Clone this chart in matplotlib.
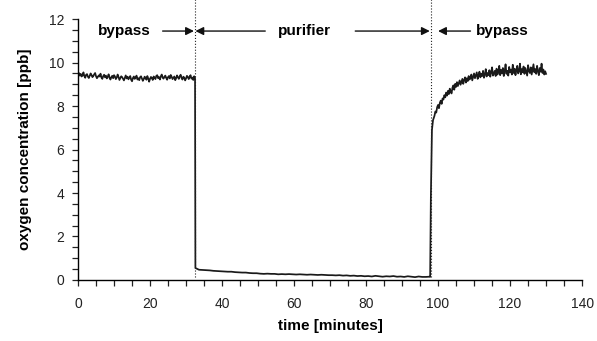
import numpy as np
import matplotlib
matplotlib.use("Agg")
import matplotlib.pyplot as plt
from matplotlib.ticker import MultipleLocator

plt.rcParams['font.family'] = ['Liberation Sans', 'DejaVu Sans']

# bypass (before purifier), sampled every 0.25 min from t=0
o2_bypass1 = [9.45, 9.52, 9.40, 9.48, 9.36, 9.41, 9.55, 9.38, 9.30, 9.44,
              9.47, 9.35, 9.29, 9.40, 9.50, 9.43, 9.33, 9.38, 9.46, 9.52,
              9.37, 9.28, 9.34, 9.41, 9.36, 9.49, 9.31, 9.25, 9.38, 9.44,
              9.32, 9.40, 9.27, 9.35, 9.46, 9.30, 9.22, 9.33, 9.39, 9.28,
              9.42, 9.36, 9.24, 9.31, 9.45, 9.34, 9.20, 9.29, 9.37, 9.33,
              9.26, 9.18, 9.30, 9.41, 9.27, 9.35, 9.23, 9.32, 9.38, 9.21,
              9.14, 9.29, 9.36, 9.25, 9.31, 9.40, 9.22, 9.28, 9.19, 9.33,
              9.37, 9.26, 9.16, 9.24, 9.35, 9.30, 9.21, 9.38, 9.27, 9.12,
              9.25, 9.34, 9.29, 9.20, 9.36, 9.31, 9.24, 9.39, 9.42, 9.28,
              9.33, 9.22, 9.37, 9.45, 9.31, 9.26, 9.35, 9.40, 9.29, 9.21,
              9.33, 9.38, 9.27, 9.43, 9.35, 9.24, 9.30, 9.36, 9.19, 9.28,
              9.41, 9.32, 9.25, 9.37, 9.44, 9.29, 9.22, 9.35, 9.31, 9.18,
              9.27, 9.39, 9.33, 9.24, 9.36, 9.42, 9.26, 9.31, 9.20, 9.37,
              9.30]
# purifier, sampled every 1 min from t=32.6
o2_purifier = [0.55, 0.47, 0.46, 0.45, 0.44, 0.42, 0.41, 0.40, 0.39, 0.38, 0.38, 0.36,
               0.35, 0.34, 0.34, 0.32, 0.31, 0.31, 0.29, 0.28, 0.29, 0.28, 0.28, 0.26,
               0.27, 0.26, 0.27, 0.26, 0.25, 0.26, 0.25, 0.24, 0.25, 0.24, 0.23, 0.24,
               0.23, 0.22, 0.22, 0.21, 0.22, 0.20, 0.21, 0.19, 0.20, 0.18, 0.19, 0.17,
               0.18, 0.16, 0.19, 0.17, 0.15, 0.17, 0.16, 0.18, 0.15, 0.16, 0.14, 0.17,
               0.15, 0.13, 0.16, 0.14, 0.14, 0.15]
# bypass recovery: first points at irregular times, then every 0.25 min from t=99
t_recovery_start = [97.8, 98.0, 98.3, 98.6]
o2_recovery_start = [0.14, 3.8, 6.9, 7.35]
o2_bypass2 = [7.55, 7.75, 7.70, 7.95, 8.05, 7.90, 8.15, 8.25, 8.10, 8.35,
              8.30, 8.50, 8.40, 8.62, 8.48, 8.70, 8.55, 8.80, 8.65, 8.58,
              8.85, 8.95, 8.75, 9.02, 8.88, 9.10, 8.92, 9.05, 9.18, 8.98,
              9.12, 9.25, 9.02, 9.20, 9.32, 9.08, 9.28, 9.15, 9.38, 9.22,
              9.30, 9.45, 9.18, 9.35, 9.50, 9.28, 9.42, 9.55, 9.25, 9.40,
              9.58, 9.32, 9.48, 9.38, 9.62, 9.30, 9.45, 9.70, 9.36, 9.52,
              9.42, 9.65, 9.35, 9.55, 9.78, 9.40, 9.50, 9.62, 9.38, 9.72,
              9.45, 9.58, 9.85, 9.42, 9.66, 9.50, 9.75, 9.38, 9.60, 9.92,
              9.48, 9.62, 9.40, 9.80, 9.55, 9.68, 9.45, 9.90, 9.52, 9.72,
              9.42, 9.65, 9.85, 9.50, 9.60, 9.95, 9.46, 9.70, 9.55, 9.82,
              9.48, 9.75, 9.58, 9.40, 9.88, 9.62, 9.52, 9.78, 9.45, 9.68,
              9.92, 9.55, 9.70, 9.48, 9.85, 9.60, 9.42, 9.75, 9.58, 9.95,
              9.52, 9.68, 9.45, 9.60, 9.48]

switch_times = [32.4, 97.9]
xticks = [0, 20, 40, 60, 80, 100, 120, 140]
yticks = [0, 2, 4, 6, 8, 10, 12]

t1 = np.arange(len(o2_bypass1)) * 0.25
t2 = 32.6 + np.arange(len(o2_purifier)) * 1.0
t3 = 99.0 + np.arange(len(o2_bypass2)) * 0.25
t = np.concatenate([t1, t2, t_recovery_start, t3])
y = np.concatenate([o2_bypass1, o2_purifier, o2_recovery_start, o2_bypass2])

fig = plt.figure(figsize=(5.97, 3.41), dpi=100)
ax = fig.add_axes([0.1307, 0.179, 0.8443, 0.765])

ax.plot(t, y, color='#1a1a1a', lw=1.25)

for xs in switch_times:
    ax.plot([xs, xs], [0.12, 12.95], color='#222222', lw=0.8, ls=':', clip_on=False)

ax.set_xlim(0, 140)
ax.set_ylim(0, 12)
ax.set_xticks(xticks)
ax.set_yticks(yticks)
ax.xaxis.set_minor_locator(MultipleLocator(5))
ax.yaxis.set_minor_locator(MultipleLocator(0.5))
ax.tick_params(which='both', direction='out', length=4, width=0.9, labelsize=10, colors='#222222')
ax.tick_params(axis='x', pad=8)
ax.tick_params(axis='y', pad=6)
for s in ['top', 'right']:
    ax.spines[s].set_visible(False)
for s in ['left', 'bottom']:
    ax.spines[s].set_linewidth(1.0)

ax.set_xlabel('time [minutes]', fontsize=11, fontweight='bold', labelpad=6)
ax.set_ylabel('oxygen concentration [ppb]', fontsize=11, fontweight='bold', labelpad=12)

ya = 11.45
ap = dict(arrowstyle='-|>', color='#111111', lw=1.0, mutation_scale=12, shrinkA=0, shrinkB=0)
ax.text(12.9, ya, 'bypass', ha='center', va='center', fontsize=11, fontweight='bold')
ax.annotate('', xy=(32.2, ya), xytext=(23.5, ya), arrowprops=ap, annotation_clip=False)
ax.text(62.8, ya, 'purifier', ha='center', va='center', fontsize=11, fontweight='bold')
ax.annotate('', xy=(32.6, ya), xytext=(52, ya), arrowprops=ap, annotation_clip=False)
ax.annotate('', xy=(97.7, ya), xytext=(77, ya), arrowprops=ap, annotation_clip=False)
ax.text(117.8, ya, 'bypass', ha='center', va='center', fontsize=11, fontweight='bold')
ax.annotate('', xy=(100.0, ya), xytext=(109, ya), arrowprops=ap, annotation_clip=False)

fig.savefig('out.png', dpi=100)
